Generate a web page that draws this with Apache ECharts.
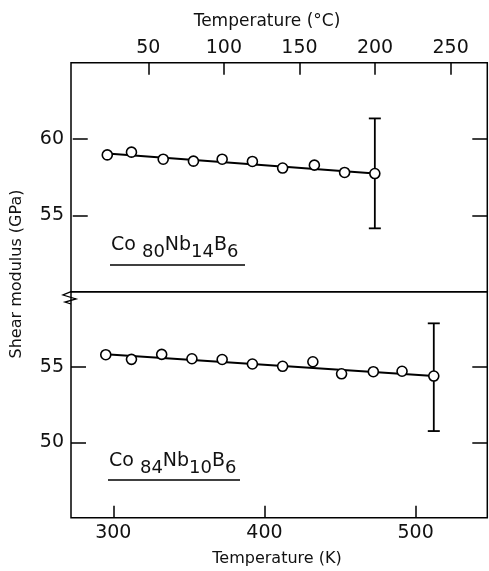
<!DOCTYPE html>
<html>
<head>
<meta charset="utf-8">
<script src="https://cdn.jsdelivr.net/npm/echarts@6/dist/echarts.min.js"></script>
<style>html,body{margin:0;padding:0;background:#fff;}#c{width:489px;height:571px;}</style>
</head>
<body>
<div id="c"></div>
<script>
// ---- data ----
const tempUpperK = [296, 312, 333, 353, 372, 392, 412, 433, 453, 473];
const modulusUpper = [58.96, 59.14, 58.68, 58.55, 58.68, 58.53, 58.10, 58.29, 57.81, 57.74];
const tempLowerK = [295, 312, 332, 352, 372, 392, 412, 432, 451, 472, 491, 512];
const modulusLower = [55.82, 55.51, 55.84, 55.55, 55.50, 55.20, 55.05, 55.35, 54.55, 54.69, 54.72, 54.40];
const fitUpperK = [296, 473];
const fitUpperG = [59.05, 57.75];
const fitLowerK = [295, 512];
const fitLowerG = [55.85, 54.40];
const errUpper = [473, 54.15, 61.35];   // T, low, high
const errLower = [512, 50.75, 57.90];
const ticksK = [300, 400, 500];
const ticksC = [50, 100, 150, 200, 250];
const ticksUpperG = [55, 60];
const ticksLowerG = [50, 55];
const alloyUpper = ['Co', '80', 'Nb', '14', 'B', '6'];
const alloyLower = ['Co', '84', 'Nb', '10', 'B', '6'];

const K0 = 273.15;
const xMinK = 272, xMaxK = 547.4;
const FONT = 'DejaVu Sans';

const chart = echarts.init(document.getElementById('c'), null, {renderer: 'canvas'});

function zipPts(a, b) { return a.map((v, i) => [v, b[i]]); }

function errRender(params, api) {
  const x = api.value(0);
  const lo = api.coord([x, api.value(1)]);
  const hi = api.coord([x, api.value(2)]);
  const hw = 6;
  const st = {stroke: '#000', lineWidth: 1.8};
  return {type: 'group', children: [
    {type: 'line', shape: {x1: lo[0], y1: lo[1], x2: hi[0], y2: hi[1]}, style: st},
    {type: 'line', shape: {x1: lo[0] - hw, y1: lo[1], x2: lo[0] + hw, y2: lo[1]}, style: st},
    {type: 'line', shape: {x1: hi[0] - hw, y1: hi[1], x2: hi[0] + hw, y2: hi[1]}, style: st}
  ]};
}

function alloyRich(parts) {
  let s = '';
  parts.forEach((p, i) => { s += (i % 2 === 0 ? '{b|' : '{s|') + p + '}'; if (i === 0) s += '{b| }'; });
  return s;
}

const gridL = 71, gridR = 489 - 487.3;
const tickLabel = {fontFamily: FONT, fontSize: 19, color: '#111'};
const alloyStyle = {
  b: {fontFamily: FONT, fontSize: 19, verticalAlign: 'top', lineHeight: 30, fill: '#111'},
  s: {fontFamily: FONT, fontSize: 18, verticalAlign: 'top', lineHeight: 30, padding: [7, 0, 0, 0], fill: '#111'}
};

const option = {
  animation: false,
  backgroundColor: '#fff',
  grid: [
    {left: gridL, right: gridR, top: 62.7, height: 229, show: true, borderColor: '#000', borderWidth: 1.5, backgroundColor: 'transparent'},
    {left: gridL, right: gridR, top: 291.7, height: 226, show: true, borderColor: '#000', borderWidth: 1.5, backgroundColor: 'transparent'}
  ],
  xAxis: [
    {type: 'value', gridIndex: 0, min: xMinK, max: xMaxK, show: true, axisLine: {show: false}, axisTick: {show: false}, axisLabel: {show: false}, splitLine: {show: false}},
    {type: 'value', gridIndex: 0, position: 'top', min: xMinK - K0, max: xMaxK - K0,
      axisLine: {show: false}, splitLine: {show: false},
      axisTick: {show: true, inside: true, length: 12, customValues: ticksC, lineStyle: {color: '#000', width: 1.5}},
      axisLabel: {show: true, customValues: ticksC, margin: 5, ...tickLabel}},
    {type: 'value', gridIndex: 1, position: 'bottom', min: xMinK, max: xMaxK,
      axisLine: {show: false}, splitLine: {show: false},
      axisTick: {show: true, inside: true, length: 12, customValues: ticksK, lineStyle: {color: '#000', width: 1.5}},
      axisLabel: {show: true, customValues: ticksK, margin: 6, ...tickLabel}}
  ],
  yAxis: [
    {type: 'value', gridIndex: 0, min: 50, max: 65, position: 'left',
      axisLine: {show: false}, splitLine: {show: false},
      axisTick: {show: true, inside: true, length: 15, customValues: ticksUpperG, lineStyle: {color: '#000', width: 1.5}},
      axisLabel: {show: true, customValues: ticksUpperG, margin: 7, ...tickLabel}},
    {type: 'value', gridIndex: 0, min: 50, max: 65, position: 'right',
      axisLine: {show: false}, splitLine: {show: false},
      axisTick: {show: true, inside: true, length: 15, customValues: ticksUpperG, lineStyle: {color: '#000', width: 1.5}},
      axisLabel: {show: false}},
    {type: 'value', gridIndex: 1, min: 45, max: 60, position: 'left',
      axisLine: {show: false}, splitLine: {show: false},
      axisTick: {show: true, inside: true, length: 15, customValues: ticksLowerG, lineStyle: {color: '#000', width: 1.5}},
      axisLabel: {show: true, customValues: ticksLowerG, margin: 7, ...tickLabel}},
    {type: 'value', gridIndex: 1, min: 45, max: 60, position: 'right',
      axisLine: {show: false}, splitLine: {show: false},
      axisTick: {show: true, inside: true, length: 15, customValues: ticksLowerG, lineStyle: {color: '#000', width: 1.5}},
      axisLabel: {show: false}}
  ],
  series: [
    {type: 'line', xAxisIndex: 0, yAxisIndex: 0, data: zipPts(fitUpperK, fitUpperG), symbol: 'none', lineStyle: {color: '#000', width: 2}, z: 2},
    {type: 'custom', xAxisIndex: 0, yAxisIndex: 0, data: [errUpper], renderItem: errRender, encode: {x: 0, y: [1, 2]}, z: 3},
    {type: 'scatter', xAxisIndex: 0, yAxisIndex: 0, data: zipPts(tempUpperK, modulusUpper), symbol: 'circle', symbolSize: 10,
      itemStyle: {color: '#fff', borderColor: '#000', borderWidth: 1.6, opacity: 1}, z: 5},
    {type: 'line', xAxisIndex: 2, yAxisIndex: 2, data: zipPts(fitLowerK, fitLowerG), symbol: 'none', lineStyle: {color: '#000', width: 2}, z: 2},
    {type: 'custom', xAxisIndex: 2, yAxisIndex: 2, data: [errLower], renderItem: errRender, encode: {x: 0, y: [1, 2]}, z: 3},
    {type: 'scatter', xAxisIndex: 2, yAxisIndex: 2, data: zipPts(tempLowerK, modulusLower), symbol: 'circle', symbolSize: 10,
      itemStyle: {color: '#fff', borderColor: '#000', borderWidth: 1.6, opacity: 1}, z: 5}
  ],
  graphic: [
    {type: 'text', x: 267, y: 22,
      style: {text: 'Temperature (°C)', fontFamily: FONT, fontSize: 17, fill: '#111', align: 'center', verticalAlign: 'middle'}},
    {type: 'text', x: 277, y: 559,
      style: {text: 'Temperature (K)', fontFamily: FONT, fontSize: 16, fill: '#111', align: 'center', verticalAlign: 'middle'}},
    {type: 'text', x: 17, y: 274, rotation: Math.PI / 2,
      style: {text: 'Shear modulus (GPa)', fontFamily: FONT, fontSize: 16, fill: '#111', align: 'center', verticalAlign: 'middle'}},
    {type: 'text', x: 111, y: 236, style: {text: alloyRich(alloyUpper), fill: '#111', rich: alloyStyle}},
    {type: 'line', shape: {x1: 110, y1: 265, x2: 245, y2: 265}, style: {stroke: '#000', lineWidth: 1.5}},
    {type: 'text', x: 109, y: 452, style: {text: alloyRich(alloyLower), fill: '#111', rich: alloyStyle}},
    {type: 'line', shape: {x1: 108, y1: 480, x2: 240, y2: 480}, style: {stroke: '#000', lineWidth: 1.5}},
    {type: 'polyline', shape: {points: [[71, 291.7], [63, 295], [76, 299], [65, 302], [71, 304]]}, style: {stroke: '#000', lineWidth: 1.3, fill: null}}
  ]
};
chart.setOption(option);
</script>
</body>
</html>
